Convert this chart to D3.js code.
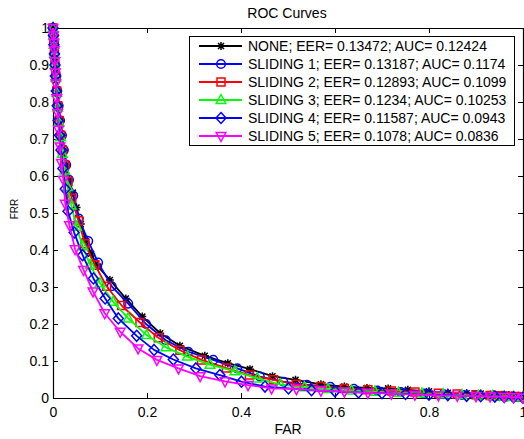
<!DOCTYPE html>
<html><head><meta charset="utf-8">
<script src="https://cdn.jsdelivr.net/npm/d3@7"></script>
<style>
body{margin:0;background:#fff}
svg{display:block}
text{font-family:"Liberation Sans",Arial,Helvetica,sans-serif;fill:#000}
</style>
</head><body>
<svg id="chart" width="524" height="439"></svg>
<script>
// ---- data ----
const seriesLabels = [
  "NONE; EER= 0.13472; AUC= 0.12424",
  "SLIDING 1; EER= 0.13187; AUC= 0.1174",
  "SLIDING 2; EER= 0.12893; AUC= 0.1099",
  "SLIDING 3; EER= 0.1234; AUC= 0.10253",
  "SLIDING 4; EER= 0.11587; AUC= 0.0943",
  "SLIDING 5; EER= 0.1078; AUC= 0.0836"
];
const farNone = [0,0.001,0.002,0.003,0.004,0.006,0.008,0.010,0.013,0.016,0.020,0.024,0.029,0.035,0.042,0.050,0.059,0.069,0.081,0.096,0.121,0.155,0.19,0.228,0.27,0.323,0.372,0.419,0.467,0.516,0.57,0.62,0.668,0.713,0.755,0.80,0.84,0.88,0.91,0.936,0.955,0.97,0.98,0.99,1.0];
const frrNone = [1,0.98,0.96,0.94,0.92,0.89,0.86,0.83,0.79,0.75,0.71,0.67,0.63,0.59,0.555,0.515,0.47,0.43,0.39,0.355,0.319,0.269,0.22,0.175,0.141,0.114,0.094,0.078,0.059,0.049,0.037,0.031,0.027,0.026,0.022,0.018,0.014,0.013,0.012,0.011,0.009,0.008,0.007,0.006,0.005];
const farS1 = [0,0.001,0.002,0.003,0.005,0.007,0.009,0.012,0.015,0.019,0.023,0.028,0.034,0.043,0.055,0.075,0.096,0.125,0.16,0.198,0.24,0.288,0.341,0.392,0.44,0.49,0.54,0.59,0.64,0.69,0.74,0.79,0.83,0.87,0.90,0.93,0.95,0.965,0.98,0.99,1.0];
const frrS1 = [1,0.98,0.96,0.93,0.90,0.87,0.83,0.79,0.75,0.71,0.67,0.63,0.59,0.547,0.485,0.424,0.366,0.302,0.255,0.2,0.156,0.125,0.103,0.08,0.058,0.044,0.036,0.03,0.025,0.02,0.016,0.012,0.01,0.008,0.007,0.006,0.005,0.004,0.003,0.002,0.001];
const farS2 = [0,0.001,0.002,0.003,0.004,0.006,0.008,0.010,0.013,0.016,0.020,0.025,0.032,0.040,0.054,0.068,0.089,0.114,0.146,0.185,0.224,0.27,0.316,0.369,0.418,0.469,0.518,0.57,0.62,0.67,0.72,0.77,0.82,0.86,0.9,0.93,0.95,0.97,0.985,1.0];
const frrS2 = [1,0.98,0.96,0.93,0.9,0.87,0.83,0.79,0.75,0.71,0.67,0.63,0.585,0.54,0.479,0.417,0.36,0.302,0.25,0.204,0.163,0.129,0.103,0.081,0.062,0.049,0.037,0.031,0.026,0.022,0.019,0.016,0.013,0.011,0.009,0.007,0.006,0.005,0.004,0.003];
const farS3 = [0,0.001,0.002,0.003,0.004,0.006,0.008,0.010,0.013,0.016,0.020,0.025,0.031,0.039,0.05,0.063,0.079,0.1,0.128,0.16,0.199,0.24,0.286,0.334,0.387,0.435,0.484,0.535,0.585,0.635,0.685,0.735,0.785,0.83,0.87,0.905,0.935,0.96,0.98,1.0];
const frrS3 = [1,0.98,0.955,0.93,0.9,0.865,0.825,0.785,0.745,0.705,0.66,0.615,0.57,0.52,0.463,0.41,0.36,0.31,0.26,0.215,0.17,0.137,0.112,0.09,0.072,0.053,0.036,0.029,0.024,0.02,0.017,0.014,0.012,0.01,0.008,0.006,0.005,0.004,0.003,0.002];
const farS4 = [0,0.001,0.002,0.003,0.004,0.005,0.007,0.009,0.011,0.014,0.017,0.021,0.026,0.032,0.045,0.063,0.086,0.111,0.139,0.178,0.215,0.256,0.304,0.355,0.401,0.451,0.501,0.55,0.6,0.65,0.7,0.75,0.8,0.84,0.88,0.91,0.94,0.96,0.98,1.0];
const frrS4 = [1,0.98,0.955,0.93,0.9,0.87,0.83,0.79,0.75,0.71,0.67,0.62,0.565,0.505,0.447,0.386,0.323,0.269,0.215,0.168,0.13,0.104,0.08,0.062,0.044,0.031,0.026,0.021,0.018,0.015,0.013,0.011,0.009,0.008,0.006,0.005,0.004,0.003,0.002,0.001];
const farS5 = [0,0.001,0.002,0.003,0.004,0.005,0.006,0.008,0.010,0.012,0.015,0.018,0.022,0.026,0.035,0.047,0.065,0.085,0.11,0.143,0.181,0.221,0.267,0.313,0.366,0.415,0.465,0.518,0.57,0.62,0.67,0.72,0.77,0.82,0.86,0.9,0.93,0.96,0.98,1.0];
const frrS5 = [1,0.98,0.96,0.94,0.91,0.88,0.85,0.81,0.77,0.725,0.68,0.635,0.59,0.525,0.467,0.402,0.346,0.288,0.229,0.179,0.134,0.103,0.08,0.059,0.045,0.035,0.026,0.024,0.02,0.017,0.014,0.012,0.009,0.007,0.006,0.005,0.004,0.003,0.002,0.001];
const xTicks = [0,0.2,0.4,0.6,0.8,1];
const yTicks = [0,0.1,0.2,0.3,0.4,0.5,0.6,0.7,0.8,0.9,1];
const seriesColors = ["#000000","#0000ff","#ff0000","#00ff00","#0000ff","#ff00ff"];
const seriesMarkers = ["star","circle","square","triUp","diamond","triDown"];

const seriesFar = [farNone,farS1,farS2,farS3,farS4,farS5];
const seriesFrr = [frrNone,frrS1,frrS2,frrS3,frrS4,frrS5];
const series = seriesLabels.map((name,i)=>({
  name, color: seriesColors[i], marker: seriesMarkers[i],
  pts: seriesFar[i].map((f,j)=>[f, seriesFrr[i][j]])
}));

// ---- layout ----
const L = 53, R = 523, T = 28, B = 398;
const svg = d3.select("#chart");
const x = d3.scaleLinear().domain([0,1]).range([L,R]);
const y = d3.scaleLinear().domain([0,1]).range([B,T]);

svg.append("rect").attr("x",0).attr("y",0).attr("width",524).attr("height",439).attr("fill","#fff");

const markerPaths = {
  square: "M-4,-4H4V4H-4Z",
  triUp: "M0,-5.5L4.8,3.5L-4.8,3.5Z",
  triDown: "M0,5.5L4.8,-3.5L-4.8,-3.5Z",
  diamond: "M0,-5.5L5,0L0,5.5L-5,0Z",
  star: "M-4,0H4M0,-4V4M-3,-3L3,3M-3,3L3,-3"
};
function drawMarker(g, type, cx, cy, color){
  if(type === "circle"){
    g.append("circle").attr("cx",cx).attr("cy",cy).attr("r",4.3)
      .attr("fill","none").attr("stroke",color).attr("stroke-width",1.5);
  } else {
    g.append("path").attr("d",markerPaths[type]).attr("transform",`translate(${cx},${cy})`)
      .attr("fill","none").attr("stroke",color).attr("stroke-width",1.5);
  }
}

// axes
const fontSize = "14px";
function styleAxis(g){
  g.selectAll(".domain").attr("stroke","#000").attr("stroke-width",1.2);
  g.selectAll(".tick line").attr("stroke","#000").attr("stroke-width",1);
  g.selectAll("text").style("font-size",fontSize).attr("font-family",null).attr("fill","#000");
}
svg.append("g").attr("transform",`translate(0,${B})`)
  .call(d3.axisBottom(x).tickValues(xTicks).tickFormat(d=>String(d)).tickSizeInner(-5).tickSizeOuter(0).tickPadding(9))
  .call(styleAxis);
svg.append("g").attr("transform",`translate(0,${T})`)
  .call(d3.axisTop(x).tickValues(xTicks).tickFormat("").tickSizeInner(-5).tickSizeOuter(0))
  .call(styleAxis);
svg.append("g").attr("transform",`translate(${L},0)`)
  .call(d3.axisLeft(y).tickValues(yTicks).tickFormat(d=>String(d)).tickSizeInner(-5).tickSizeOuter(0).tickPadding(4))
  .call(styleAxis);
svg.append("g").attr("transform",`translate(${R},0)`)
  .call(d3.axisRight(y).tickValues(yTicks).tickFormat("").tickSizeInner(-5).tickSizeOuter(0))
  .call(styleAxis);

// curves
const line = d3.line().x(d=>x(d[0])).y(d=>y(d[1]));
series.forEach(s=>{
  const g = svg.append("g");
  g.append("path").attr("d",line(s.pts)).attr("fill","none")
    .attr("stroke",s.color).attr("stroke-width",1.8).attr("stroke-linejoin","round");
  s.pts.forEach(p=>drawMarker(g, s.marker, x(p[0]), y(p[1]), s.color));
});

// title & labels
svg.append("text").attr("x",287).attr("y",18).attr("text-anchor","middle").style("font-size","14px").text("ROC Curves");
svg.append("text").attr("x",288).attr("y",434).attr("text-anchor","middle").style("font-size","14px").text("FAR");
svg.append("text").attr("transform","translate(17.5,209) rotate(-90)").attr("text-anchor","middle").style("font-size","10px").text("FRR");

// legend
const lg = svg.append("g");
lg.append("rect").attr("x",189.5).attr("y",36.5).attr("width",325).attr("height",109)
  .attr("fill","#fff").attr("stroke","#000").attr("stroke-width",1);
series.forEach((s,i)=>{
  const cy = 46 + i*18;
  lg.append("line").attr("x1",199).attr("x2",242).attr("y1",cy).attr("y2",cy)
    .attr("stroke",s.color).attr("stroke-width",1.8);
  drawMarker(lg, s.marker, 221, cy, s.color);
  lg.append("text").attr("x",248).attr("y",cy+5).style("font-size","14px").text(s.name);
});
</script>
</body></html>
